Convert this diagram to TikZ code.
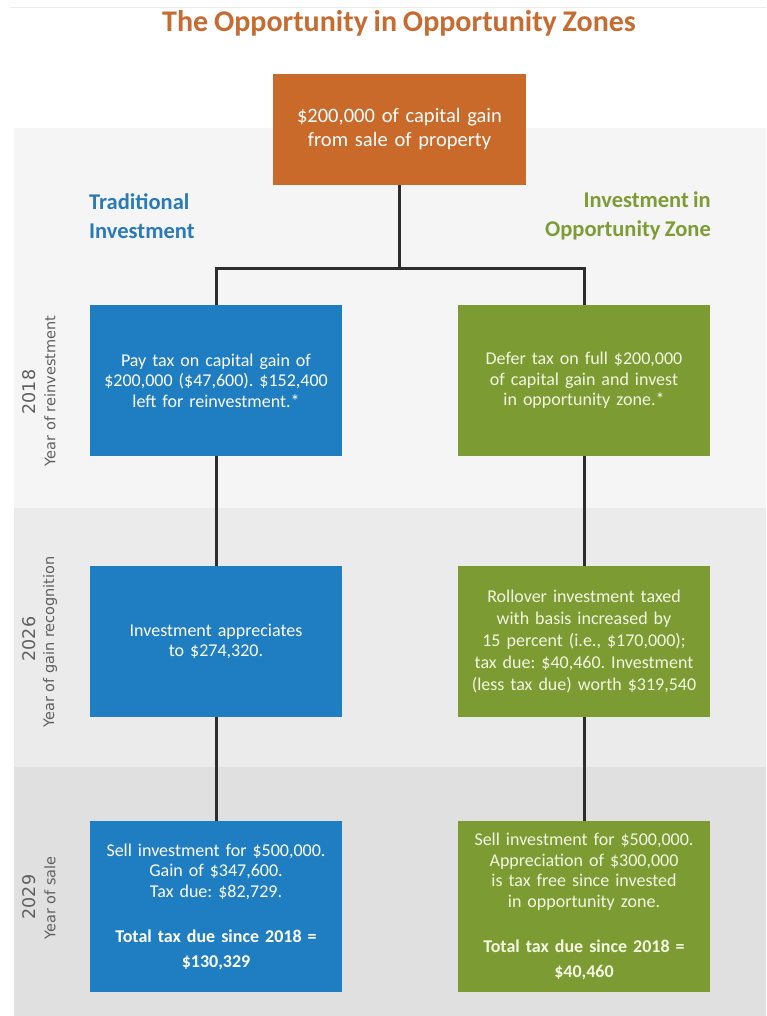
\documentclass[tikz,border=0pt]{standalone}
\usepackage{fontspec}
\setmainfont{Carlito}[WordSpace=0.85]
\newfontfamily\yearfont{DejaVu Sans}
\frenchspacing
\definecolor{orangebox}{RGB}{201,106,43}
\definecolor{titleorange}{RGB}{198,108,50}
\definecolor{tradblue}{RGB}{31,125,193}
\definecolor{ozgreen}{RGB}{124,155,50}
\definecolor{headblue}{RGB}{42,122,184}
\definecolor{headgreen}{RGB}{126,156,53}
\definecolor{bandA}{RGB}{245,245,245}
\definecolor{bandB}{RGB}{235,235,235}
\definecolor{bandC}{RGB}{224,224,224}
\definecolor{linegrey}{RGB}{45,45,45}
\definecolor{yeargrey}{RGB}{95,95,95}
\definecolor{cream}{RGB}{244,247,226}
\begin{document}
\begin{tikzpicture}[x=1pt,y=-1pt,
  box/.style={minimum width=252pt, text width=244pt, align=center, inner sep=0pt,
    font={\fontsize{18}{20.5}\selectfont}},
  bluebox/.style={box, fill=tradblue, text=white},
  greenbox/.style={box, fill=ozgreen, text=cream},
  conn/.style={draw=linegrey, line width=3pt},
  yearnum/.style={rotate=90, text=yeargrey, inner sep=0pt, font={\yearfont\fontsize{17.5}{19}\selectfont}},
  yearlab/.style={rotate=90, text=yeargrey, inner sep=0pt, font={\yearfont\fontsize{14.5}{17}\selectfont}},
  header/.style={inner sep=0pt, font={\bfseries\fontsize{22.5}{29}\selectfont}}
]
\useasboundingbox (0,0) rectangle (766,1016);
\fill[white] (0,0) rectangle (766,1016);
% background bands
\draw[bandB, line width=1pt] (10,8) -- (766,8);
\fill[bandA] (14,128) rectangle (766,508);
\fill[bandB] (14,508) rectangle (766,767);
\fill[bandC] (14,767) rectangle (766,1016);

% title
\node[text=titleorange, font={\bfseries\fontsize{30}{32}\selectfont}, inner sep=0pt] (title) at (399,23) {The Opportunity in Opportunity Zones};

% top box
\node[box, fill=orangebox, text=white, minimum width=253pt, minimum height=111pt,
  font={\fontsize{20.5}{24}\selectfont}] (top) at (399.5,129.5)
  {\$200,000 of capital gain\\from sale of property};

% headers
\node[header, text=headblue, align=left, anchor=west] (hl) at (89,216) {Traditional\\Investment};
\node[header, text=headgreen, align=right, anchor=east] (hr) at (711,216) {Investment in\\Opportunity Zone};

% row 1
\node[bluebox, minimum height=151pt] (b1) at (216,380.5)
  {Pay tax on capital gain of\\\$200,000 (\$47,600). \$152,400\\left for reinvestment.*};
\node[greenbox, minimum height=151pt] (g1) at (584,380.5)
  {Defer tax on full \$200,000\\of capital gain and invest\\in opportunity zone.*};

% row 2
\node[bluebox, minimum height=151pt] (b2) at (216,641.5)
  {Investment appreciates\\to \$274,320.};
\node[greenbox, minimum height=151pt, font={\fontsize{18}{22}\selectfont}] (g2) at (584,641.5)
  {Rollover investment taxed\\with basis increased by\\15 percent (i.e., \$170,000);\\tax due: \$40,460. Investment\\(less tax due) worth \$319,540};

% row 3
\node[bluebox, minimum height=171pt] (b3) at (216,906.5)
  {Sell investment for \$500,000.\\Gain of \$347,600.\\Tax due: \$82,729.\par\vspace{20pt}
   {\bfseries\fontsize{18}{25}\selectfont Total tax due since 2018 =\\\$130,329\par}};
\node[greenbox, minimum height=171pt] (g3) at (584,906.5)
  {Sell investment for \$500,000.\\Appreciation of \$300,000\\is tax free since invested\\in opportunity zone.\par\vspace{20pt}
   {\bfseries\fontsize{18}{25}\selectfont Total tax due since 2018 =\\\$40,460\par}};

% year labels
\node[yearnum] (y1n) at (29,392) {2018};
\node[yearlab] (y1l) at (50,391) {Year of reinvestment};
\node[yearnum] (y2n) at (29,639) {2026};
\node[yearlab] (y2l) at (50,642) {Year of gain recognition};
\node[yearnum] (y3n) at (29,897) {2029};
\node[yearlab] (y3l) at (50,898) {Year of sale};

% connectors
\coordinate (j) at (399.5,268);
\draw[conn] (top.south) -- (j);
\draw[conn] (b1.north) |- (j) -| (g1.north);
\draw[conn] (b1.south) -- (b2.north);
\draw[conn] (b2.south) -- (b3.north);
\draw[conn] (g1.south) -- (g2.north);
\draw[conn] (g2.south) -- (g3.north);
\end{tikzpicture}
\end{document}
